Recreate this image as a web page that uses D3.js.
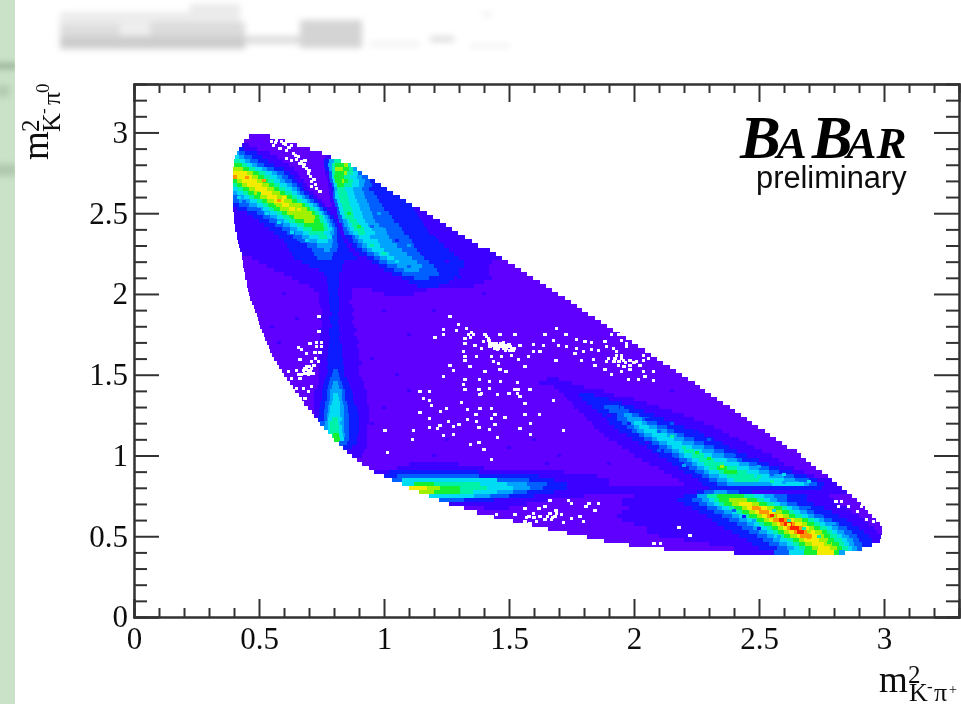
<!DOCTYPE html>
<html>
<head>
<meta charset="utf-8">
<script src="https://cdnjs.cloudflare.com/ajax/libs/d3/7.8.5/d3.min.js"></script>
<style>
  html, body { margin: 0; padding: 0; background: #fff; }
  svg { display: block; }
  .tick text { font-family: "Liberation Serif", serif; font-size: 31px; fill: #111; }
  .tick line, .domain { stroke: #333; stroke-width: 2px; }
  .title { font-family: "Liberation Serif", serif; fill: #111; }
</style>
</head>
<body>
<div id="container"></div>
<script>
// bin contents, one row per m2(K-pi0) bin, top row first.
// each row is: x start, level, next x start, level, ... , x end
let rowStep = 0.025;
let firstRow = 2.975;

let rowsTop = [
  [.46,0,.54],
  [.44,0,.6],
  [.43,1,.46,0,.65],
  [.42,2,.44,1,.49,0,.7],
  [.41,4,.42,3,.445,2,.49,1,.545,0,.75],
  [.405,5,.42,4,.44,3,.47,2,.51,1,.57,0,.765,1,.785],
  [.4,6,.425,5,.445,4,.465,3,.495,2,.535,1,.595,0,.76,2,.78,4,.8,6,.825],
  [.4,7,.43,6,.45,5,.47,4,.49,3,.52,2,.56,1,.62,0,.76,2,.775,4,.79,6,.805,7,.84,8,.855,6,.865],
  [.395,8,.435,7,.46,6,.485,5,.51,4,.53,3,.56,2,.6,1,.64,0,.765,2,.78,4,.79,6,.805,8,.835,7,.86,6,.875,4,.89],
  [.395,9,.45,8,.475,7,.5,6,.525,5,.55,4,.57,3,.6,2,.625,1,.655,0,.765,1,.78,3,.79,6,.805,7,.84,8,.85,6,.875,5,.895,3,.91],
  [.395,10,.41,9,.47,8,.495,7,.52,6,.545,5,.57,4,.59,3,.615,2,.64,1,.665,0,.77,1,.78,3,.79,5,.8,7,.84,6,.865,5,.89,4,.91,3,.935],
  [.395,7,.41,8,.43,9,.49,8,.515,7,.535,6,.56,5,.585,4,.605,3,.63,2,.65,1,.68,0,.775,1,.785,3,.795,5,.805,7,.83,8,.84,7,.855,6,.875,5,.9,4,.925,3,.945,2,.96],
  [.395,6,.41,7,.43,8,.45,9,.51,8,.54,7,.56,6,.585,5,.61,4,.63,3,.65,2,.67,1,.69,0,.775,1,.79,3,.8,5,.81,7,.84,6,.87,5,.9,4,.92,3,.95,2,.985],
  [.395,5,.415,6,.435,7,.46,8,.485,9,.53,8,.56,7,.58,6,.605,5,.63,4,.65,3,.665,2,.68,1,.7,0,.78,1,.79,2,.8,4,.81,6,.845,5,.875,4,.91,3,.94,2,1.01],
  [.395,4,.41,5,.435,6,.455,7,.48,8,.505,9,.55,8,.585,7,.605,6,.63,5,.65,4,.665,3,.68,2,.7,1,.72,0,.78,1,.795,3,.805,5,.815,6,.85,5,.88,4,.92,3,.96,2,1.035],
  [.395,3,.415,4,.44,5,.46,6,.48,7,.505,8,.53,9,.57,8,.61,7,.63,6,.65,5,.67,4,.685,3,.7,2,.715,1,.73,0,.785,1,.795,3,.805,5,.82,6,.855,5,.885,4,.925,3,.97,2,1.06],
  [.395,3,.42,4,.465,5,.49,6,.51,7,.53,8,.56,9,.6,8,.63,7,.65,6,.67,5,.69,4,.705,3,.72,2,.735,1,.75,0,.785,1,.8,3,.81,5,.825,6,.86,5,.89,4,.93,3,.98,2,1.085],
  [.395,2,.42,3,.46,4,.49,5,.515,6,.535,7,.56,8,.59,9,.62,8,.67,7,.685,6,.7,5,.715,4,.73,3,.74,2,.75,1,.765,0,.79,1,.805,3,.815,5,.83,6,.865,5,.9,4,.94,3,.99,2,1.11],
  [.395,1,.41,2,.45,3,.49,4,.515,5,.54,6,.56,7,.585,8,.62,9,.645,8,.69,7,.705,6,.72,5,.735,4,.745,3,.755,2,.77,1,.81,3,.82,5,.835,6,.87,5,.905,4,.945,3,1,2,1.12,1,1.14],
  [.4,1,.45,2,.49,3,.52,4,.545,5,.57,6,.59,7,.61,8,.71,7,.725,6,.74,5,.75,4,.76,3,.77,2,.785,1,.81,3,.825,5,.84,6,.875,5,.91,4,.95,3,1.02,2,1.13,1,1.17],
  [.4,1,.475,2,.515,3,.545,4,.57,5,.595,6,.62,7,.64,8,.725,7,.74,6,.755,5,.765,4,.775,3,.785,2,.8,1,.815,3,.83,5,.845,6,.88,5,.915,4,.955,3,1.03,2,1.14,1,1.195],
  [.4,1,.5,2,.54,3,.57,4,.6,5,.62,6,.645,7,.68,8,.72,7,.745,6,.76,5,.77,4,.785,3,.795,2,.81,1,.82,3,.835,4,.85,5,.86,6,.89,5,.925,4,.965,3,1.04,2,1.15,1,1.22],
  [.405,1,.52,2,.565,3,.595,4,.625,5,.65,6,.68,7,.755,6,.77,5,.78,4,.79,3,.805,2,.815,1,.83,3,.84,4,.855,5,.87,6,.9,5,.935,4,.98,3,1.06,2,1.16,1,1.245],
  [.405,1,.54,2,.59,3,.625,4,.65,5,.675,6,.71,7,.76,6,.775,5,.79,4,.8,3,.81,2,.82,1,.835,3,.85,4,.865,5,.88,6,.92,5,.95,4,.995,3,1.07,2,1.17,1,1.27],
  [.41,1,.56,2,.61,3,.645,4,.675,5,.7,6,.76,5,.785,4,.8,3,.81,2,.825,1,.84,3,.86,4,.875,5,.895,6,.925,5,.965,4,1.01,3,1.08,2,1.18,1,1.295],
  [.412,1,.58,2,.635,3,.67,4,.7,5,.74,6,.77,5,.79,3,.81,2,.83,1,.845,2,.87,3,.885,4,.9,5,.945,4,1.02,3,1.1,2,1.2,1,1.32],
  [.415,1,.6,2,.665,3,.7,4,.73,5,.775,4,.795,3,.81,2,.84,1,.855,2,.875,3,.895,4,.915,5,.975,4,1.03,3,1.11,2,1.22,1,1.35],
  [.42,1,.61,2,.69,3,.73,4,.79,3,.815,2,.85,1,.87,2,.89,3,.91,4,.93,5,.985,4,1.05,3,1.12,2,1.24,1,1.375],
  [.425,1,.62,2,.71,3,.76,4,.785,3,.81,2,.86,1,.885,2,.91,3,.93,4,.95,5,1,4,1.07,3,1.13,2,1.26,1,1.42],
  [.43,1,.63,2,.72,3,.795,2,.875,1,.9,2,.93,3,.96,4,.98,5,1.02,4,1.09,3,1.15,2,1.28,1,1.445],
  [.43,0,.47,1,.64,2,.73,3,.79,2,.89,1,.93,2,.96,3,.985,4,1.01,5,1.04,4,1.11,3,1.16,2,1.3,1,1.47],
  [.435,0,.5,1,.67,2,.84,1,.95,2,.98,3,1.01,4,1.13,3,1.18,2,1.32,1,1.43,0,1.495],
  [.435,0,.53,1,.7,2,.83,1,.98,2,1.01,3,1.05,4,1.15,3,1.2,2,1.32,1,1.42,0,1.52],
  [.44,0,.56,1,.74,2,.83,1,1,2,1.04,3,1.08,4,1.14,3,1.21,2,1.3,1,1.42,0,1.545],
  [.445,0,.6,1,.76,2,.82,1,1.03,2,1.07,3,1.22,2,1.3,1,1.42,0,1.57],
  [.445,0,.63,1,.77,2,.82,1,1.07,2,1.12,3,1.18,2,1.28,1,1.43,0,1.595],
  [.45,0,.66,1,.77,2,.82,1,1.1,2,1.26,1,1.4,0,1.62],
  [.453,0,.7,1,.775,2,.82,1,1.13,2,1.22,1,1.36,0,1.645],
  [.457,0,.72,1,.775,2,.815,1,.87,0,.95,1,1.17,0,1.67],
  [.46,0,.74,1,.78,2,.815,1,.87,0,1,1,1.12,0,1.695]
];

let rowsMiddle = [
  [.464,0,.74,1,.78,2,.82,1,.87,0,1.72],
  [.47,0,.74,1,.78,2,.82,1,.86,0,1.745],
  [.478,0,.745,1,.785,2,.82,1,.87,0,1.77],
  [.484,0,.75,1,.785,2,.82,1,.88,0,1.79],
  [.49,0,.75,1,.79,2,.815,1,.87,0,1.815],
  [.495,0,.74,1,.78,2,.82,1,.88,0,1.84],
  [.5,0,.75,1,.785,2,.815,1,.87,0,1.865],
  [.505,0,.75,1,.79,2,.82,1,.88,0,1.89],
  [.512,0,.74,1,.78,2,.82,1,.89,0,1.915],
  [.52,0,.745,1,.78,2,.825,1,.88,0,1.94],
  [.525,0,.745,1,.785,2,.82,1,.89,0,1.965],
  [.53,0,.74,1,.78,2,.825,1,.9,0,1.99],
  [.54,0,.745,1,.78,2,.83,1,.89,0,2.015],
  [.545,0,.74,1,.775,2,.83,1,.9,0,2.04],
  [.55,0,.74,1,.775,2,.83,1,.9,0,2.065],
  [.56,0,.74,1,.77,2,.835,1,.9,0,2.09],
  [.57,0,.74,1,.775,2,.835,1,.91,0,2.115],
  [.58,0,.74,1,.77,2,.84,1,.9,0,2.14],
  [.59,0,.74,1,.775,2,.795,3,.815,2,.84,1,.9,0,2.165],
  [.6,0,.74,1,.77,2,.79,3,.82,2,.84,1,.9,0,2.19],
  [.61,0,.74,1,.765,2,.785,3,.825,2,.85,1,.91,0,1.65,1,1.7,0,2.215],
  [.625,0,.74,1,.76,2,.78,3,.795,4,.815,3,.83,2,.86,1,.92,0,1.62,1,1.75,0,2.24],
  [.635,0,.73,1,.755,2,.775,3,.79,4,.82,3,.835,2,.865,1,.92,0,1.68,1,1.8,0,2.26],
  [.645,0,.72,1,.75,2,.77,3,.785,4,.83,3,.845,2,.87,1,.93,0,1.7,1,1.88,0,2.28],
  [.66,0,.72,1,.75,2,.77,3,.785,4,.795,5,.815,4,.83,3,.845,2,.875,1,.93,0,1.72,1,1.78,2,1.84,1,1.92,0,2.305],
  [.67,0,.72,1,.75,2,.77,3,.785,4,.795,5,.82,4,.83,3,.845,2,.875,1,.93,0,1.73,1,1.79,2,1.9,1,2,0,2.33],
  [.68,0,.72,1,.745,2,.765,3,.78,4,.79,5,.825,4,.835,3,.85,2,.88,1,.93,0,1.75,1,1.81,2,1.95,1,2.05,0,2.355],
  [.695,0,.72,1,.745,2,.765,3,.775,4,.785,5,.825,4,.84,3,.855,2,.89,1,.94,0,1.76,1,1.83,2,1.88,3,1.94,2,2,1,2.1,0,2.38],
  [.71,0,.72,1,.74,2,.76,3,.775,4,.785,5,.825,4,.84,3,.855,2,.895,1,.94,0,1.78,1,1.85,2,1.9,3,1.98,2,2.04,1,2.15,0,2.4],
  [.72,1,.74,2,.76,3,.77,4,.78,5,.825,4,.84,3,.86,2,.9,1,.94,0,1.8,1,1.87,2,1.93,3,1.96,4,1.99,3,2.02,2,2.08,1,2.2,0,2.425],
  [.735,2,.76,3,.77,4,.775,5,.79,6,.815,5,.83,4,.84,3,.86,2,.9,1,.94,0,1.81,1,1.89,2,1.93,3,1.97,4,2.03,3,2.06,2,2.12,1,2.24,0,2.45],
  [.745,3,.765,4,.775,5,.785,6,.815,5,.825,4,.84,3,.86,2,.9,1,.94,0,1.83,1,1.9,2,1.95,3,1.98,4,2,5,2.03,4,2.05,3,2.09,2,2.16,1,2.28,0,2.47],
  [.76,4,.775,5,.785,6,.82,5,.83,4,.84,3,.86,2,.9,1,.93,0,1.84,1,1.92,2,1.97,3,2,4,2.02,5,2.06,4,2.09,3,2.13,2,2.2,1,2.32,0,2.495],
  [.775,5,.785,6,.82,5,.83,4,.84,3,.86,2,.9,1,.93,0,1.86,1,1.94,2,1.99,3,2.01,4,2.04,5,2.09,4,2.13,3,2.16,2,2.24,1,2.35,0,2.52],
  [.79,6,.795,7,.82,5,.835,4,.845,3,.86,2,.895,1,.93,0,1.88,1,1.97,2,2.02,3,2.04,4,2.07,5,2.13,4,2.17,3,2.2,2,2.28,1,2.38,0,2.54],
  [.8,7,.825,5,.84,3,.86,2,.89,1,.93,0,1.9,1,1.99,2,2.04,3,2.07,4,2.09,5,2.16,4,2.2,3,2.24,2,2.32,1,2.42,0,2.565],
  [.82,3,.85,2,.89,1,.93,0,1.93,1,2.02,2,2.07,3,2.1,4,2.13,5,2.19,4,2.24,3,2.28,2,2.35,1,2.45,0,2.59],
  [.835,2,.87,1,.93,0,1.95,1,2.05,2,2.1,3,2.13,4,2.15,5,2.23,4,2.28,3,2.32,2,2.38,1,2.48,0,2.61],
  [.85,1,.92,0,1.98,1,2.07,2,2.12,3,2.15,4,2.18,5,2.2,6,2.24,5,2.27,4,2.32,3,2.36,2,2.41,1,2.51,0,2.65],
  [.87,1,.91,0,2,1,2.1,2,2.15,3,2.18,4,2.2,5,2.23,6,2.28,5,2.31,4,2.36,3,2.4,2,2.45,1,2.55,0,2.665]
];

let rowsBottom = [
  [.89,0,2.03,1,2.13,2,2.18,3,2.21,4,2.23,5,2.26,6,2.32,5,2.37,4,2.41,3,2.43,2,2.5,1,2.58,0,2.685],
  [.91,0,1.1,1,1.3,0,2.06,1,2.15,2,2.2,3,2.23,4,2.25,5,2.28,6,2.36,5,2.42,4,2.46,3,2.49,2,2.54,1,2.6,0,2.705],
  [.94,0,1.05,1,1.4,0,2.1,1,2.18,2,2.22,3,2.25,4,2.28,5,2.3,6,2.33,7,2.37,6,2.41,5,2.46,4,2.5,3,2.54,2,2.58,1,2.64,0,2.725],
  [.96,1,1.02,2,1.38,1,1.72,0,2.12,1,2.2,2,2.25,3,2.28,4,2.3,5,2.34,6,2.36,7,2.41,6,2.45,5,2.5,4,2.54,3,2.58,2,2.63,1,2.68,0,2.75],
  [1,2,1.05,3,1.38,2,1.62,1,1.85,0,2.15,1,2.23,2,2.27,3,2.3,4,2.34,5,2.37,6,2.48,5,2.54,4,2.6,3,2.64,2,2.69,1,2.72,0,2.775],
  [1.03,3,1.07,5,1.45,3,1.58,2,1.68,1,1.9,0,2.18,1,2.26,2,2.3,3,2.33,4,2.37,5,2.4,6,2.5,5,2.6,4,2.66,3,2.7,2,2.73,1,2.79],
  [1.07,5,1.12,7,1.2,6,1.384,5,1.49,4,1.57,3,1.65,2,1.73,1,1.9,0,2.2,1,2.27,2,2.33,3,2.37,4,2.55,5,2.68,4,2.7,3,2.73,2,2.76,1,2.81],
  [1.1,9,1.17,8,1.224,7,1.304,6,1.41,5,1.517,4,1.584,3,1.637,2,1.73,1,2.3,2,2.75,1,2.83],
  [1.14,8,1.2,7,1.304,6,1.357,5,1.45,4,1.517,3,1.57,2,1.68,1,2.25,2,2.28,3,2.32,4,2.37,3,2.42,2,2.47,1,2.85],
  [1.18,5,1.36,4,1.424,3,1.5,2,1.6,1,1.8,0,2,1,2.2,2,2.25,4,2.29,6,2.33,7,2.44,6,2.48,5,2.52,4,2.56,3,2.61,2,2.69,1,2.78,0,2.87],
  [1.22,3,1.32,2,1.44,1,1.65,0,1.95,1,2.17,2,2.23,3,2.27,4,2.3,5,2.32,6,2.34,7,2.38,8,2.45,7,2.49,6,2.52,5,2.545,4,2.57,3,2.61,2,2.69,1,2.8,0,2.89],
  [1.26,1,1.57,0,1.95,1,2.2,2,2.26,3,2.29,4,2.32,5,2.34,6,2.36,7,2.39,8,2.42,9,2.47,8,2.5,7,2.53,6,2.56,5,2.585,4,2.61,3,2.65,2,2.72,1,2.82,0,2.905],
  [1.32,0,1.4,1,1.5,0,1.98,1,2.23,2,2.29,3,2.33,4,2.35,5,2.38,6,2.4,7,2.43,8,2.45,9,2.47,10,2.5,9,2.53,8,2.56,7,2.59,6,2.61,5,2.63,4,2.66,3,2.69,2,2.76,1,2.85,0,2.92],
  [1.37,0,1.95,1,2.26,2,2.32,3,2.36,4,2.39,5,2.41,6,2.43,7,2.46,8,2.485,9,2.5,10,2.54,9,2.565,8,2.59,7,2.62,6,2.64,5,2.665,4,2.69,3,2.72,2,2.79,1,2.87,0,2.935],
  [1.44,0,1.93,1,2.29,2,2.35,3,2.39,4,2.42,5,2.44,6,2.46,7,2.49,8,2.51,9,2.53,10,2.57,9,2.595,8,2.62,7,2.645,6,2.67,5,2.695,4,2.72,3,2.75,2,2.82,1,2.9,0,2.95],
  [1.515,0,1.95,1,2.31,2,2.38,3,2.42,4,2.45,5,2.47,6,2.49,7,2.52,8,2.54,9,2.555,10,2.58,11,2.6,10,2.62,9,2.64,8,2.67,7,2.695,6,2.72,5,2.74,4,2.76,3,2.79,2,2.85,1,2.92,0,2.965],
  [1.59,0,2,1,2.33,2,2.41,3,2.45,4,2.48,5,2.5,6,2.52,7,2.55,8,2.57,9,2.585,10,2.6,11,2.63,10,2.645,9,2.67,8,2.69,7,2.72,6,2.745,5,2.765,4,2.79,3,2.82,2,2.87,1,2.94,0,2.98],
  [1.655,0,2.05,1,2.36,2,2.43,3,2.475,4,2.505,5,2.53,6,2.55,7,2.575,8,2.595,9,2.61,10,2.625,11,2.66,10,2.675,9,2.7,8,2.72,7,2.745,6,2.77,5,2.79,4,2.815,3,2.85,2,2.9,1,2.96,0,2.99],
  [1.73,0,2.05,1,2.39,2,2.46,3,2.5,4,2.53,5,2.555,6,2.575,7,2.6,8,2.62,9,2.64,10,2.65,11,2.68,10,2.7,9,2.725,8,2.75,7,2.77,6,2.79,5,2.81,4,2.84,3,2.87,2,2.92,1,2.97,0,2.99],
  [1.81,0,2.1,1,2.42,2,2.49,3,2.53,4,2.56,5,2.58,6,2.6,7,2.625,8,2.65,9,2.665,10,2.71,9,2.74,8,2.76,7,2.785,6,2.81,5,2.83,4,2.86,3,2.89,2,2.94,1,2.985],
  [1.88,0,2.2,1,2.45,2,2.515,3,2.555,4,2.585,5,2.61,6,2.635,7,2.66,8,2.68,9,2.74,8,2.775,7,2.8,6,2.83,5,2.85,4,2.875,3,2.9,2,2.95,1,2.98],
  [1.98,0,2.3,1,2.47,2,2.54,3,2.58,4,2.61,5,2.635,6,2.66,7,2.685,8,2.71,9,2.76,8,2.79,7,2.82,6,2.84,5,2.86,4,2.88,3,2.91,2,2.95],
  [2.12,0,2.4,1,2.5,2,2.57,3,2.61,4,2.64,5,2.66,6,2.685,7,2.71,8,2.735,9,2.785,8,2.81,7,2.83,6,2.855,5,2.87,4,2.89,3,2.91],
  [2.4,1,2.56,3,2.62,5,2.68,7,2.73,9,2.8,7,2.82,4,2.84]
];

// single bins that stand out from their neighbours, [x, y, level]
let oddBins = [
  [.42,2.6,5],[.44,2.57,3],[.47,2.58,5],[.5,2.52,3],[.53,2.5,5],[.55,2.46,3],[.58,2.44,5],[.6,2.4,3],[.63,2.38,5],[.66,2.34,3],[.69,2.33,5],[.72,2.28,3],
  [.5,2.62,7],[.56,2.54,7],[.62,2.47,6],[.52,2.7,10],[.6,2.6,9],[.66,2.52,9],[.7,2.45,8],[.45,2.72,10],[.58,2.58,10],
  [.86,2.5,7],[.9,2.42,7],[.95,2.3,6],[1,2.25,6],[1.05,2.2,5],[.95,2.42,3],[1,2.4,4],[1.05,2.33,2],[1.1,2.3,4],[1.15,2.25,2],[1.2,2.15,3],[1.1,2.17,3],[1.25,2.2,1],[1.3,2.1,2],[.98,2.5,4],[1.05,2.5,2],[1.2,2.35,2],[1.25,2.32,1],
  [2.1,1.15,3],[2.15,1.12,6],[2.2,1.05,6],[2.25,1.02,7],[2.3,.98,7],[2.35,.93,8],[2,1.1,2],[2.05,1.08,1],[2.1,1.03,3],[2.15,.98,2],[2.2,.94,4],[2.25,.9,3],[2.4,1,3],[2.45,.97,2],[2.5,.93,4],[2.55,.88,3],[2.6,.88,5],[2.65,.85,3],[2.7,.84,5],[2.5,.87,6],[2.55,.84,6],[2.6,.83,4],[2.3,1.1,3],[2.35,1.06,2],[2.25,1.15,2],[2.15,1.2,3],[2.05,1.22,2],[1.95,1.3,3],[1.98,1.2,2],[1.9,1.25,1],
  [2.5,.72,6],[2.56,.66,5],[2.62,.6,6],[2.68,.55,6],[2.74,.5,6],[2.48,.6,4],[2.52,.55,5],[2.58,.5,4],[2.62,.46,5],[2.56,.62,8],[2.62,.57,9],[2.7,.53,8],[2.5,.67,10],[2.55,.63,11],[2.66,.53,11],[2.7,.49,10],[2.78,.46,7],[2.4,.66,3],[2.44,.62,2],[2.5,.55,2],[2.55,.45,3],[2.85,.52,3],[2.8,.58,4],[2.75,.62,3],[2.7,.68,3],
  [1,1.9,1],[1.1,1.75,1],[.95,1.6,1],[1.05,1.5,1],[.6,2,1],[.65,1.85,1],[1.3,1.2,1],[1.5,1.05,1],[1.7,1,1],[1.9,.95,1],[2,.6,1],[2.05,.7,1],[1,1.3,1],[1.2,1,1],[1.65,.95,1],[1.4,2,1],[1.2,1.9,1],[.55,1.8,1],[.58,1.7,1],[1.85,1.2,1],[2.15,1.4,1],[1.25,1.1,1],[1.1,1.4,1],[.95,1.2,1],[1.6,1.1,1]
];

// empty bins inside the populated region, [x, y]
let emptyTop = [[.551,2.943],[.571,2.953],[.557,2.922],[.591,2.943],[.617,2.943],[.631,2.922],[.584,2.902],[.611,2.891],[.637,2.871],[.611,2.84],[.657,2.85],[.631,2.829],[.664,2.809],[.677,2.788],[.697,2.747],[.711,2.695],[.731,2.654],[.744,2.633],[.691,2.778],[.684,2.829],[.711,2.664],[.565,2.938],[.6,2.93],[.62,2.905],[.605,2.925],[.645,2.86],[.65,2.835],[.67,2.82],[.68,2.8],[.7,2.765],[.705,2.73],[.72,2.71],[.725,2.68]];
let emptyLeft = [[.704,1.695],[.731,1.699],[.751,1.699],[.731,1.674],[.751,1.674],[.671,1.657],[.657,1.67],[.724,1.637],[.744,1.637],[.691,1.633],[.664,1.596],[.711,1.581],[.737,1.581],[.691,1.55],[.704,1.529],[.677,1.529],[.651,1.529],[.617,1.519],[.717,1.509],[.671,1.499],[.697,1.499],[.631,1.478],[.664,1.478],[.711,1.43],[.677,1.416],[.651,1.416],[.697,1.395],[.684,1.354],[.74,1.767],[.74,1.86],[.684,1.54],[.697,1.52],[.684,1.51],[.7,1.55],[.71,1.54],[.69,1.53],[.705,1.51],[.72,1.56],[.66,1.5],[.725,1.6]];
let emptyCentre = [[1.264,1.86],[1.297,1.808],[1.291,1.773],[1.331,1.787],[1.237,1.777],[1.237,1.746],[1.204,1.732],[1.337,1.746],[1.357,1.746],[1.324,1.726],[1.404,1.746],[1.417,1.726],[1.464,1.746],[1.524,1.746],[1.397,1.705],[1.424,1.695],[1.451,1.695],[1.477,1.684],[1.504,1.674],[1.424,1.674],[1.457,1.664],[1.491,1.664],[1.517,1.653],[1.544,1.684],[1.391,1.664],[1.324,1.695],[1.364,1.684],[1.317,1.643],[1.324,1.612],[1.324,1.591],[1.371,1.612],[1.431,1.612],[1.471,1.612],[1.511,1.622],[1.537,1.596],[1.577,1.612],[1.597,1.643],[1.624,1.643],[1.437,1.581],[1.457,1.571],[1.464,1.534],[1.264,1.56],[1.277,1.529],[1.344,1.55],[1.404,1.519],[1.488,1.519],[1.564,1.55],[1.324,1.472],[1.381,1.472],[1.237,1.488],[1.317,1.437],[1.421,1.457],[1.467,1.457],[1.533,1.451],[1.537,1.41],[1.381,1.41],[1.421,1.412],[1.497,1.385],[1.584,1.406],[1.384,1.375],[1.544,1.364],[1.644,1.746],[1.691,1.787],[1.728,1.746],[1.677,1.715],[1.637,1.684],[1.697,1.684],[1.731,1.674],[1.688,1.591],[1.597,1.688],[1.437,1.684],[1.464,1.684],[1.491,1.684],[1.444,1.664],[1.477,1.664],[1.504,1.653],[1.437,1.695],[1.477,1.7],[1.45,1.675],[1.47,1.675],[1.49,1.675],[1.51,1.665],[1.465,1.695],[1.485,1.65],[1.5,1.69],[1.43,1.685],[1.455,1.655],[1.52,1.665],[1.35,1.76],[1.345,1.73],[1.41,1.735],[1.42,1.71]];
let emptyRight = [[1.771,1.719],[1.804,1.705],[1.831,1.701],[1.771,1.664],[1.764,1.633],[1.797,1.643],[1.831,1.657],[1.857,1.653],[1.891,1.674],[1.917,1.664],[1.884,1.705],[1.911,1.746],[1.937,1.746],[1.951,1.715],[1.971,1.695],[1.971,1.674],[1.931,1.643],[1.951,1.622],[1.897,1.602],[1.924,1.602],[1.957,1.591],[1.984,1.591],[2.011,1.581],[2.037,1.591],[2.037,1.622],[2.057,1.602],[1.891,1.581],[1.937,1.56],[1.984,1.56],[2.024,1.56],[1.884,1.534],[1.951,1.519],[1.984,1.534],[2.037,1.519],[2.077,1.519],[1.977,1.472],[2.017,1.472],[2.044,1.492],[2.077,1.463],[1.791,1.591],[1.837,1.596],[1.844,1.56],[1.911,1.499],[1.94,1.58],[1.965,1.575],[1.92,1.58],[2,1.575],[1.95,1.6],[1.96,1.55],[1.93,1.62]];
let emptyLower = [[1.144,1.395],[1.181,1.395],[1.377,1.41],[1.391,1.381],[1.324,1.406],[1.453,1.375],[1.501,1.381],[1.533,1.381],[1.524,1.406],[1.157,1.354],[1.181,1.34],[1.311,1.327],[1.564,1.319],[1.677,1.34],[1.191,1.309],[1.251,1.292],[1.384,1.292],[1.431,1.292],[1.144,1.265],[1.227,1.271],[1.333,1.282],[1.368,1.251],[1.444,1.251],[1.484,1.236],[1.564,1.251],[1.621,1.251],[1.181,1.226],[1.257,1.209],[1.333,1.22],[1.371,1.209],[1.431,1.23],[1.3,1.189],[1.224,1.183],[1.444,1.189],[1.587,1.195],[1.004,1.154],[1.117,1.154],[1.181,1.174],[1.213,1.164],[1.277,1.179],[1.38,1.174],[1.421,1.158],[1.544,1.164],[1.717,1.154],[1.237,1.123],[1.277,1.127],[1.587,1.131],[1.453,1.11],[1.347,1.065],[1.38,1.079],[1.013,1.02],[1.431,.976],[1.115,1.096],[1.4,1.034]];
let emptyBottom = [[1.664,.724],[1.737,.724],[1.751,.7],[1.82,.7],[1.857,.7],[1.808,.687],[1.564,.673],[1.62,.673],[1.644,.687],[1.688,.658],[1.844,.658],[1.524,.632],[1.597,.638],[1.664,.642],[1.624,.625],[1.684,.625],[1.571,.617],[1.711,.632],[1.751,.611],[1.784,.625],[1.644,.601],[1.671,.601],[1.611,.59],[1.797,.59],[1.564,.59],[1.584,.576],[1.717,.584],[1.451,.636],[2.808,.714],[2.831,.714],[2.817,.687],[2.857,.687],[2.911,.683],[2.893,.656],[2.931,.601],[2.957,.59],[2.18,.555],[2.224,.504],[2.08,.456],[2.107,.456],[1.58,.625],[1.6,.615],[1.655,.625],[1.675,.615],[1.69,.64]];

// rainbow palette of the z axis
let levels = [0,1,2,3,4,5,6,7,8,9,10,11];
let palette = ["#5f00ff","#3a04ff","#0c1cff","#0060ff","#00a4ff","#00dcf4","#00f2a8","#18f030","#a0f000","#f4ec00","#ff9400","#ff2000"];

let xMajor = [0,0.5,1,1.5,2,2.5,3];
let yMajor = [0,0.5,1,1.5,2,2.5,3];
let xMinor = d3.range(0,33).map(function(i){ return i/10 }).filter(function(v){ return !xMajor.includes(v) });
let yMinor = xMinor;

let w = 961;
let h = 704;
let left = 134;
let right = 959;
let top_ = 84;
let bottom = 617;

let viz = d3.select("#container").append("svg")
  .attr("width", w)
  .attr("height", h);

let defs = viz.append("defs");
defs.append("filter").attr("id","smear")
  .attr("x","-10%").attr("y","-30%").attr("width","120%").attr("height","160%")
  .append("feGaussianBlur").attr("stdDeviation",3);
defs.append("filter").attr("id","soft").append("feGaussianBlur").attr("stdDeviation",0.45);

// pasted page remains around the figure
function blocks(list){
  viz.append("g").attr("filter","url(#smear)").selectAll("rect").data(list).enter().append("rect")
    .attr("x",function(d){ return d[0] }).attr("y",function(d){ return d[1] })
    .attr("width",function(d){ return d[2] }).attr("height",function(d){ return d[3] })
    .attr("fill",function(d){ return d[4] });
}
viz.append("rect").attr("width",15).attr("height",h).attr("fill","#cae3c8");
blocks([[-5,63,22,6,"#97b098"],[-5,85,15,12,"#b3ccb2"],[-5,164,22,12,"#afc8ae"]]);
viz.append("rect").attr("x",15).attr("width",w-15).attr("height",h).attr("fill","#fff");
blocks([
  [60,12,180,12,"#ececec"],[190,4,50,12,"#eaeaea"],[60,24,60,12,"#dedede"],[120,24,30,12,"#eeeeee"],
  [150,22,95,14,"#dcdcdc"],[60,36,185,13,"#cdcdcd"],[245,36,60,8,"#dddddd"],[300,20,62,28,"#d4d4d4"],
  [370,42,50,4,"#efefef"],[430,36,24,6,"#dedede"],[470,44,40,4,"#f1f1f1"],[482,11,10,6,"#f3f3f3"]
]);

let plot = viz.append("g").attr("filter","url(#soft)");

let xScale = d3.scaleLinear().domain([0,3.3]).range([left,right]);
let yScale = d3.scaleLinear().domain([0,3.3]).range([bottom,top_]);
let colorScale = d3.scaleOrdinal().domain(levels).range(palette);

// flatten the rows into one rect per run of equal level
let allRows = rowsTop.concat(rowsMiddle, rowsBottom);
let cells = [];
allRows.forEach(function(row, i){
  let y = firstRow - i*rowStep;
  for (let k = 0; k+2 < row.length; k += 2) {
    cells.push({ x0: row[k], x1: row[k+2], y: y, level: row[k+1] });
  }
});

plot.append("g").attr("class","cells").attr("shape-rendering","crispEdges")
  .selectAll("rect").data(cells).enter().append("rect")
    .attr("x", function(d){ return xScale(d.x0) })
    .attr("y", function(d){ return yScale(d.y + rowStep/2) })
    .attr("width", function(d){ return xScale(d.x1) - xScale(d.x0) + 0.5 })
    .attr("height", function(){ return yScale(0) - yScale(rowStep) + 0.5 })
    .attr("fill", function(d){ return colorScale(d.level) });

plot.append("g").attr("class","odd").attr("shape-rendering","crispEdges")
  .selectAll("rect").data(oddBins).enter().append("rect")
    .attr("x", function(d){ return xScale(d[0]) - 2 })
    .attr("y", function(d){ return yScale(d[1]) - 1.5 })
    .attr("width", 4)
    .attr("height", 3)
    .attr("fill", function(d){ return colorScale(d[2]) });

let emptyBins = emptyTop.concat(emptyLeft, emptyCentre, emptyRight, emptyLower, emptyBottom);
plot.append("g").attr("class","empty").attr("shape-rendering","crispEdges")
  .selectAll("rect").data(emptyBins).enter().append("rect")
    .attr("x", function(d){ return xScale(d[0]) - 1.7 })
    .attr("y", function(d){ return yScale(d[1]) - 1.5 })
    .attr("width", 3.4)
    .attr("height", 3)
    .attr("fill", "#fff");

// frame and ticks on all four sides
function drawAxis(axis, transform, size, labels){
  axis.tickSizeOuter(0).tickSize(-size);
  if (!labels) axis.tickFormat("");
  return plot.append("g").attr("transform", transform).call(axis);
}
let fmt = function(d){ return d === 0 ? "0" : String(d) };

drawAxis(d3.axisBottom(xScale).tickValues(xMajor).tickPadding(10).tickFormat(fmt), "translate(0,"+bottom+")", 18, true);
drawAxis(d3.axisBottom(xScale).tickValues(xMinor), "translate(0,"+bottom+")", 9, false);
drawAxis(d3.axisTop(xScale).tickValues(xMajor), "translate(0,"+top_+")", 18, false);
drawAxis(d3.axisTop(xScale).tickValues(xMinor), "translate(0,"+top_+")", 9, false);
drawAxis(d3.axisLeft(yScale).tickValues(yMajor).tickPadding(6).tickFormat(fmt), "translate("+left+",0)", 25, true);
drawAxis(d3.axisLeft(yScale).tickValues(yMinor), "translate("+left+",0)", 13, false);
drawAxis(d3.axisRight(yScale).tickValues(yMajor), "translate("+right+",0)", 25, false);
drawAxis(d3.axisRight(yScale).tickValues(yMinor), "translate("+right+",0)", 13, false);

function serif(g, x, y, size, str){
  return g.append("text").attr("class","title").attr("x",x).attr("y",y).attr("font-size",size).text(str);
}

// x axis title
let xTitle = plot.append("g");
serif(xTitle, 879, 692, 37, "m");
serif(xTitle, 908, 683, 25, "2");
serif(xTitle, 909, 701, 26, "K");
serif(xTitle, 927, 692, 17, "-");
serif(xTitle, 934, 701, 26, "π");
serif(xTitle, 949, 694, 14, "+");

// y axis title, same build turned by 90 degrees
let yTitle = plot.append("g").attr("transform","translate(48,160) rotate(-90)");
serif(yTitle, 0, 0, 37, "m");
serif(yTitle, 28, -9, 25, "2");
serif(yTitle, 28, 12, 26, "K");
serif(yTitle, 46, 1, 17, "-");
serif(yTitle, 55, 12, 26, "π");
serif(yTitle, 67, 1, 19, "0");

// experiment label
let logo = plot.append("text")
  .attr("x",740).attr("y",158)
  .attr("font-family","'Liberation Serif', serif")
  .attr("font-weight","bold").attr("font-style","italic").attr("fill","#000");
logo.append("tspan").attr("font-size",61).text("B");
logo.append("tspan").attr("font-size",45).attr("dx",-4).text("A");
logo.append("tspan").attr("font-size",61).attr("dx",5).text("B");
logo.append("tspan").attr("font-size",45).attr("dx",-6).text("A");
logo.append("tspan").attr("font-size",45).attr("dx",0).text("R");

plot.append("text")
  .attr("x",756).attr("y",188)
  .attr("font-family","'Liberation Sans', sans-serif")
  .attr("font-size",30.8).attr("fill","#111")
  .text("preliminary");
</script>
</body>
</html>
